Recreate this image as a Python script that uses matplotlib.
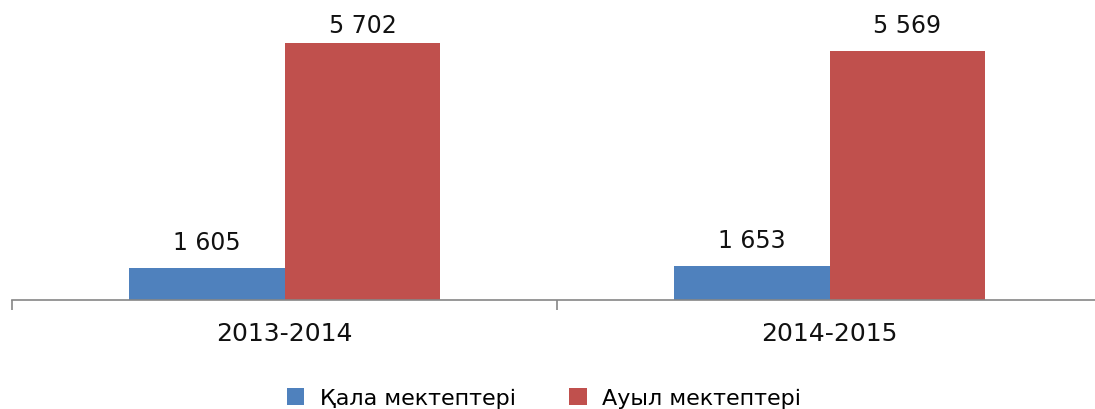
import matplotlib
matplotlib.use("Agg")
import matplotlib.pyplot as plt
from matplotlib.patches import Patch
import numpy as np

categories = ["2013-2014", "2014-2015"]
series_names = ["Қала мектептері", "Ауыл мектептері"]
city = [1605, 1653]
rural = [5702, 5569]
colors = ["#4F81BD", "#C0504D"]

W, H = 1095, 410
fig = plt.figure(figsize=(W / 100, H / 100), dpi=100)
ax = fig.add_axes([12 / W, 109 / H, 1090 / W, 301 / H])

x = np.arange(len(categories))
bw = 0.286
b1 = ax.bar(x - bw / 2, city, bw, color=colors[0])
b2 = ax.bar(x + bw / 2, rural, bw, color=colors[1])

ax.set_xlim(-0.5, len(categories) - 0.5)
ax.set_ylim(1028, 6509)

fs = 17
gap_px = 19        # distance from bar top to label baseline
top_limit_px = 33  # labels may not rise above this many px from the top
fig.canvas.draw()
for bars in (b1, b2):
    for r in bars:
        v = int(r.get_height())
        cx = r.get_x() + r.get_width() / 2
        _, ytop = ax.transData.transform((cx, v))
        ylab = min(ytop + gap_px, H - top_limit_px)
        _, ydata = ax.transData.inverted().transform((0, ylab))
        ax.text(cx, ydata, f"{v:,}".replace(",", " "),
                ha="center", va="baseline", fontsize=fs, color="#111111")

for s in ("top", "right", "left"):
    ax.spines[s].set_visible(False)
ax.spines["bottom"].set_color("#868686")
ax.spines["bottom"].set_linewidth(1.2)
ax.set_yticks([])
ax.set_xticks([-0.5, 0.5, 1.5])
ax.set_xticklabels([])
ax.tick_params(axis="x", length=7, width=1.2, color="#868686")
ax.set_xticks(x, minor=True)
ax.set_xticklabels(categories, minor=True, fontsize=18, color="#111111")
ax.tick_params(axis="x", which="minor", length=0, pad=15)

handles = [Patch(facecolor=c, edgecolor="none") for c in colors]
fig.legend(handles, series_names, loc="center", bbox_to_anchor=(544 / W, 1 - 399 / H),
           ncol=2, frameon=False, fontsize=16, handlelength=0.78, handleheight=0.78,
           handletextpad=0.7, columnspacing=2.4, borderpad=0)

fig.savefig("out.png", dpi=100)
